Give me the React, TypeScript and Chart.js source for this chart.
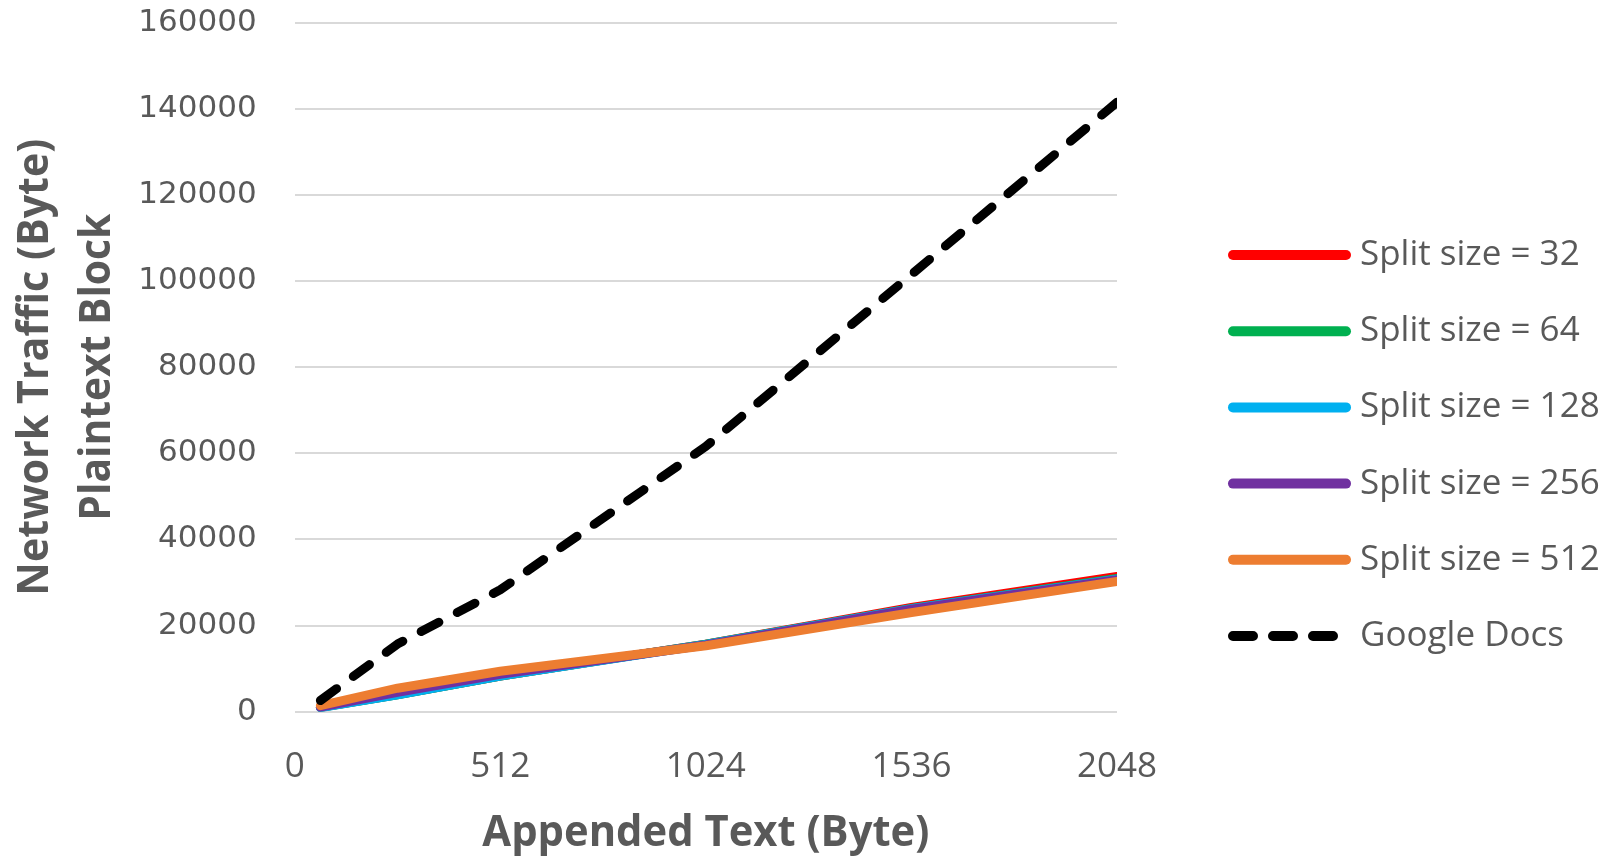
import React, { useEffect, useRef } from "react";
import { Chart, registerables } from "chart.js";

Chart.register(...registerables);

// ---- Data ----
const appendedBytes = [64, 256, 512, 1024, 1536, 2048];
const split32 = [1000, 4000, 8300, 15700, 24200, 31400];
const split64 = [1000, 3950, 8300, 15700, 24000, 30950];
const split128 = [950, 3900, 8300, 15600, 23900, 30750];
const split256 = [1050, 4500, 8700, 15500, 23800, 30650];
const split512 = [1400, 5450, 9400, 15300, 23000, 30250];
const googleDocs = [2600, 15700, 28300, 61600, 101500, 141500];

const seriesLabels = [
  "Split size = 32",
  "Split size = 64",
  "Split size = 128",
  "Split size = 256",
  "Split size = 512",
  "Google Docs",
];
const seriesColors = ["#FF0000", "#00B050", "#00B0F0", "#7030A0", "#ED7D31", "#000000"];
const xTickValues = [0, 512, 1024, 1536, 2048];
const yMax = 160000;
const yStep = 20000;

const xTitle = "Appended Text (Byte)";
const yTitleLines = ["Network Traffic (Byte)", "Plaintext Block"];

const TEXT_COLOR = "#595959";
const DASH = 20;

function fitText(
  ctx: CanvasRenderingContext2D,
  text: string,
  x: number,
  y: number,
  targetW: number,
  font: string,
  rotate: boolean
) {
  ctx.save();
  ctx.font = font;
  ctx.fillStyle = TEXT_COLOR;
  ctx.textAlign = "center";
  ctx.textBaseline = "alphabetic";
  const w = ctx.measureText(text).width;
  ctx.translate(x, y);
  if (rotate) ctx.rotate(-Math.PI / 2);
  ctx.scale(targetW / w, 1);
  ctx.fillText(text, 0, 0);
  ctx.restore();
}

const titlesPlugin = {
  id: "titlesPlugin",
  afterDraw(chart: any) {
    const ctx = chart.ctx as CanvasRenderingContext2D;
    const area = chart.chartArea;
    const cx = (area.left + area.right) / 2;
    const cy = (area.top + area.bottom) / 2;
    fitText(ctx, xTitle, cx, 846, 447, 'bold 43px "Open Sans"', false);
    fitText(ctx, yTitleLines[0], 48, cy, 457, 'bold 43px "Open Sans"', true);
    fitText(ctx, yTitleLines[1], 110, cy, 307, 'bold 43px "Open Sans"', true);
  },
};

const legendPlugin = {
  id: "customLegend",
  afterDraw(chart: any) {
    const ctx = chart.ctx as CanvasRenderingContext2D;
    const top = 255;
    const step = 76.2;
    chart.data.datasets.forEach((ds: any, i: number) => {
      const y = top + i * step;
      ctx.save();
      ctx.strokeStyle = ds.borderColor;
      ctx.lineWidth = 10;
      ctx.lineCap = "round";
      ctx.setLineDash(ds.borderDash && ds.borderDash.length ? [20, 20] : []);
      ctx.beginPath();
      ctx.moveTo(1233, y);
      ctx.lineTo(1346, y);
      ctx.stroke();
      ctx.setLineDash([]);
      ctx.fillStyle = TEXT_COLOR;
      ctx.font = '35px "Open Sans"';
      ctx.textAlign = "left";
      ctx.textBaseline = "middle";
      ctx.fillText(ds.label, 1360, y);
      ctx.restore();
    });
  },
};

export default function App() {
  const canvasRef = useRef<HTMLCanvasElement | null>(null);

  useEffect(() => {
    const canvas = canvasRef.current;
    if (!canvas) return;
    const allSeries = [split32, split64, split128, split256, split512, googleDocs];
    const datasets = allSeries.map((arr, i) => ({
      label: seriesLabels[i],
      data: appendedBytes.map((x, j) => ({ x, y: arr[j] })),
      borderColor: seriesColors[i],
      backgroundColor: seriesColors[i],
      borderWidth: 9,
      borderCapStyle: "round" as const,
      borderJoinStyle: "round" as const,
      borderDash: i === 5 ? [DASH, DASH] : [],
      pointRadius: 0,
      tension: 0,
      fill: false,
      order: 5 - i,
    }));

    const chart = new Chart(canvas, {
      type: "line",
      data: { datasets },
      options: {
        animation: false,
        responsive: false,
        devicePixelRatio: 1,
        layout: { padding: { top: 22.6, right: 493, bottom: 0, left: 0 } },
        plugins: {
          legend: { display: false },
          tooltip: { enabled: false },
          title: { display: false },
        },
        scales: {
          x: {
            type: "linear",
            min: 0,
            max: 2048,
            afterBuildTicks: (scale: any) => {
              scale.ticks = xTickValues.map((v) => ({ value: v }));
            },
            afterFit: (scale: any) => {
              scale.height = 144.3;
              scale.paddingLeft = 0;
              scale.paddingRight = 0;
            },
            grid: { display: false, drawTicks: false },
            border: { display: false },
            ticks: {
              padding: 34,
              color: TEXT_COLOR,
              font: { family: "Open Sans", size: 35 },
              maxRotation: 0,
              autoSkip: false,
              callback: (v: any) => String(v),
            },
          },
          y: {
            type: "linear",
            min: 0,
            max: yMax,
            afterFit: (scale: any) => {
              scale.width = 294.7;
              scale.paddingTop = 0;
              scale.paddingBottom = 0;
            },
            grid: { color: "#D9D9D9", lineWidth: 2, drawTicks: false },
            border: { display: false },
            ticks: {
              stepSize: yStep,
              padding: 38,
              color: TEXT_COLOR,
              font: { family: "DejaVu Sans", size: 31 },
              callback: (v: any) => String(v),
            },
          },
        },
      },
      plugins: [titlesPlugin, legendPlugin],
    });

    // Fit the dash gap so the dashed line starts and ends with a dash
    const xs = chart.scales.x;
    const ys = chart.scales.y;
    let L = 0;
    for (let j = 1; j < appendedBytes.length; j++) {
      const dx = xs.getPixelForValue(appendedBytes[j]) - xs.getPixelForValue(appendedBytes[j - 1]);
      const dy = ys.getPixelForValue(googleDocs[j]) - ys.getPixelForValue(googleDocs[j - 1]);
      L += Math.hypot(dx, dy);
    }
    const n = Math.max(1, Math.round((L - DASH) / (2 * DASH)));
    const gap = (L - DASH) / n - DASH;
    (chart.data.datasets[5] as any).borderDash = [DASH, gap];
    chart.update("none");

    return () => chart.destroy();
  }, []);

  return (
    <div style={{ position: "fixed", left: 0, top: 0, width: 1610, height: 856, background: "#fff" }}>
      <canvas ref={canvasRef} width={1610} height={856} style={{ display: "block" }} />
    </div>
  );
}
